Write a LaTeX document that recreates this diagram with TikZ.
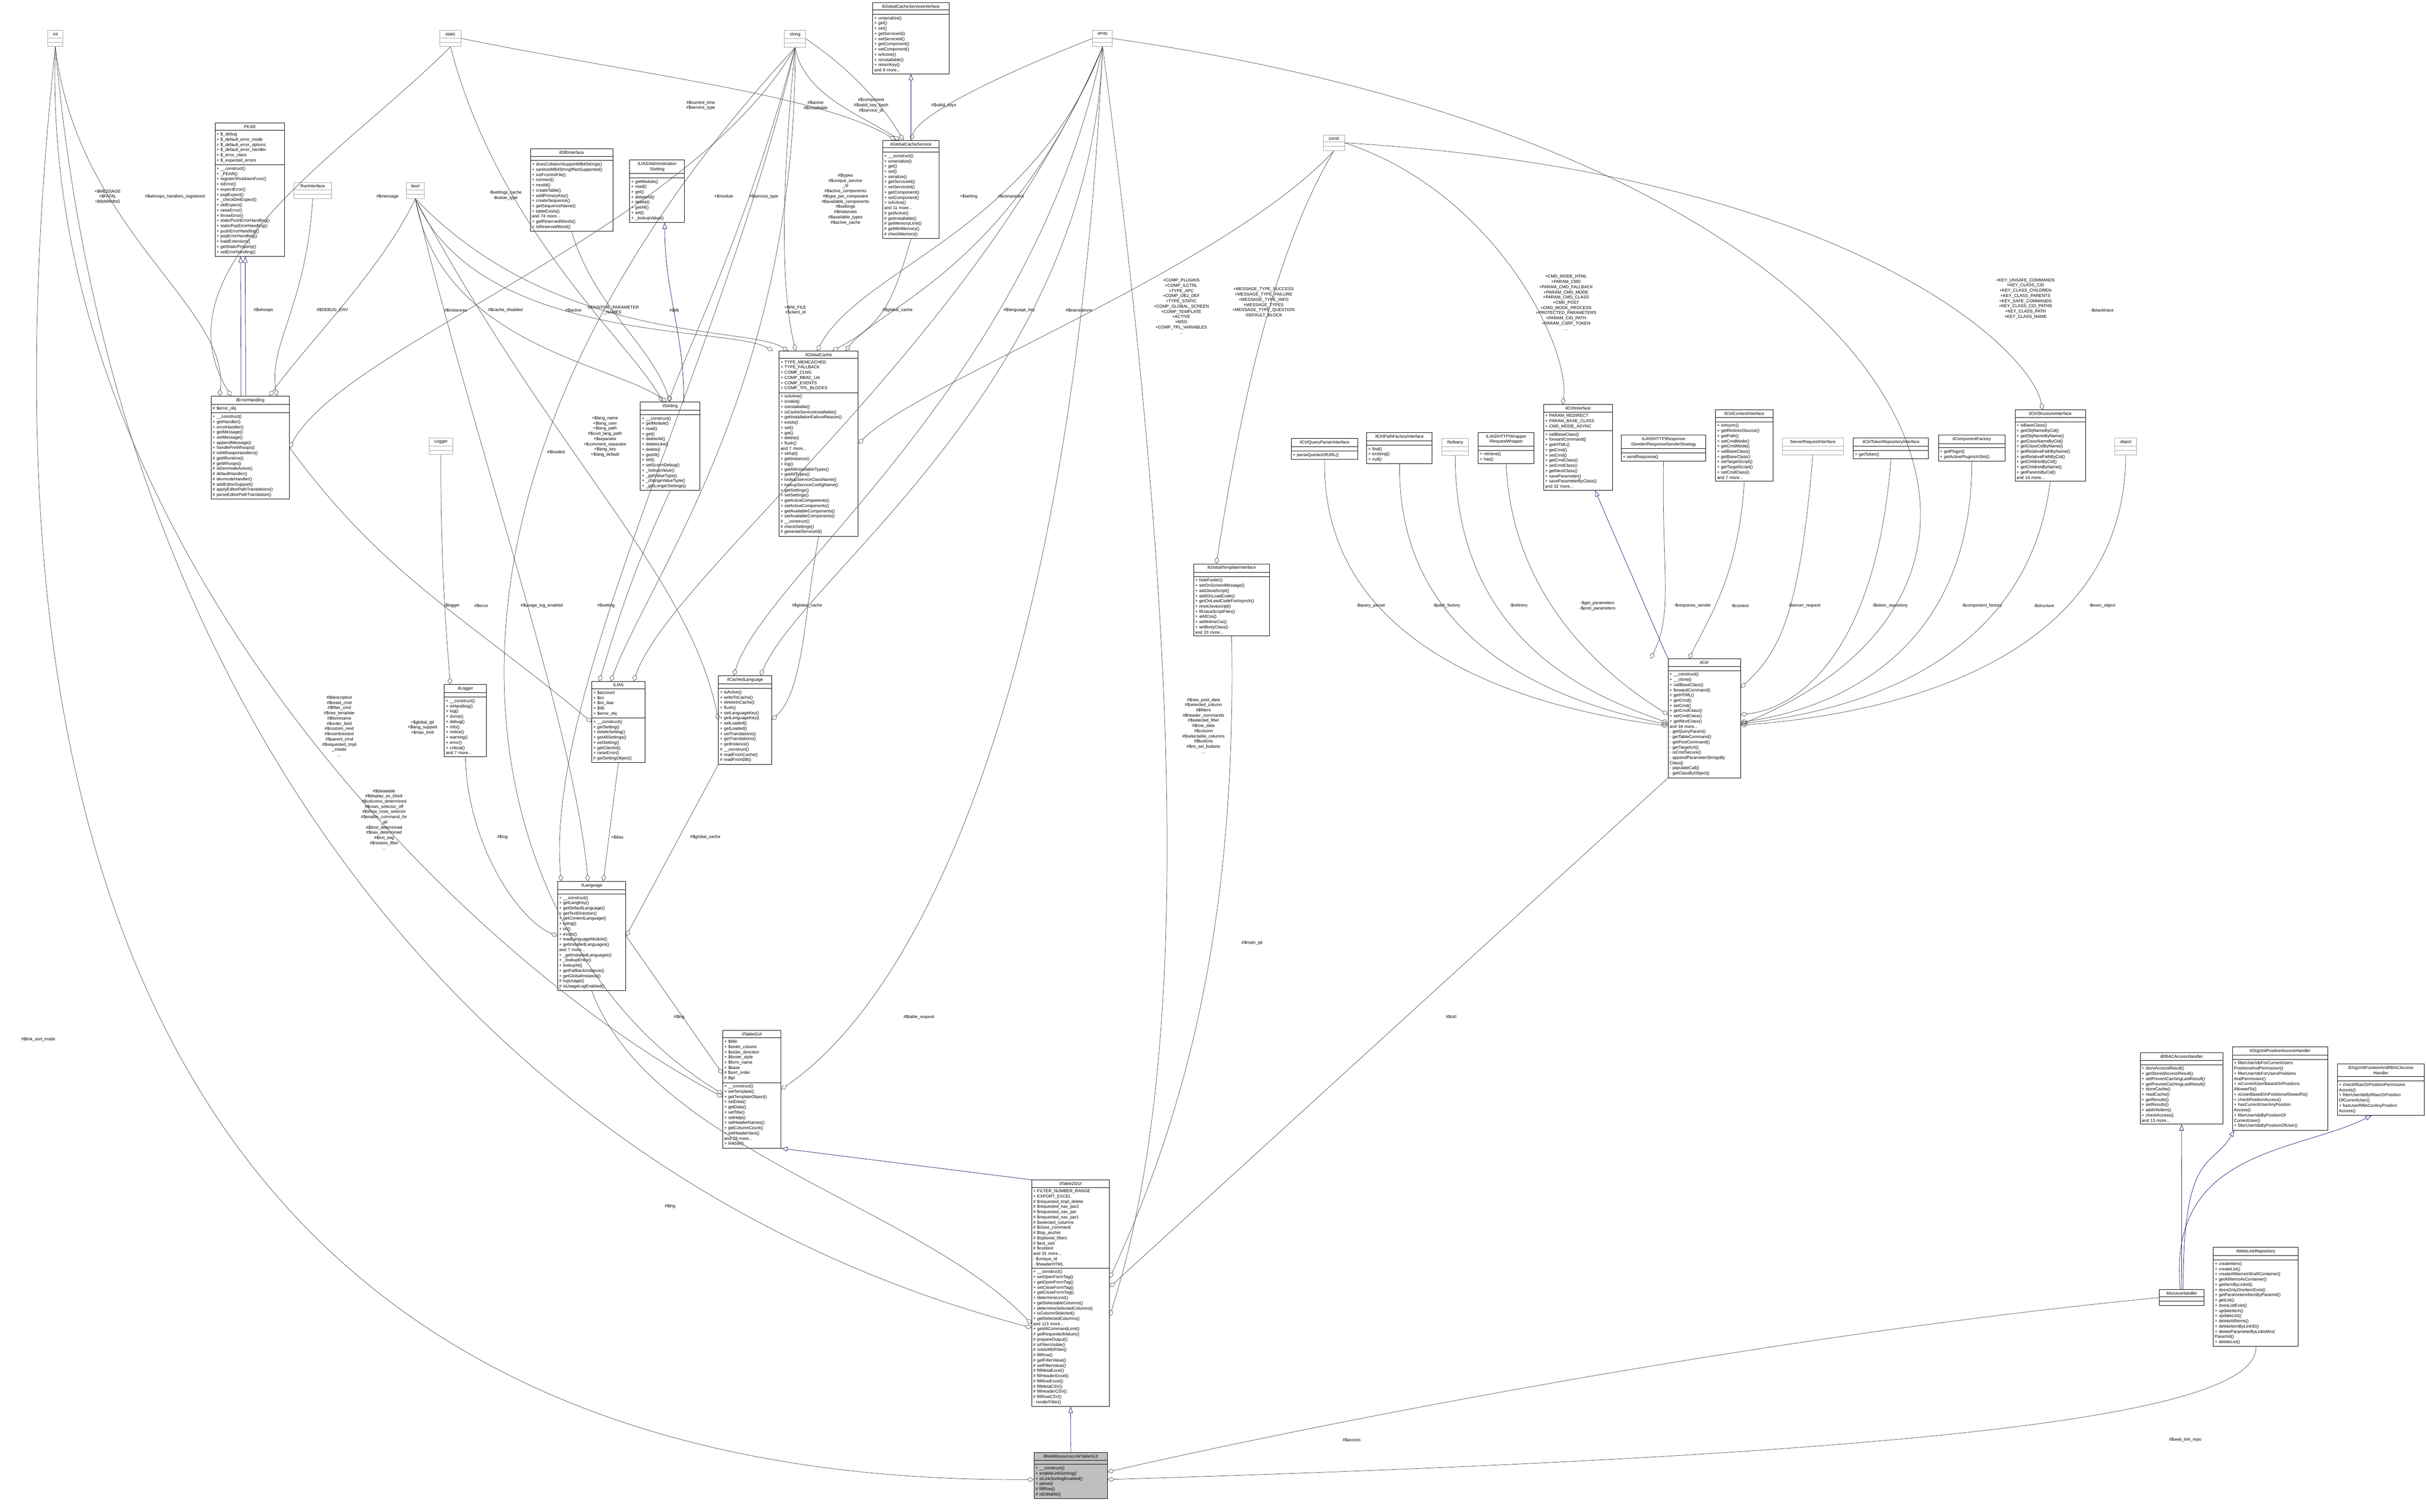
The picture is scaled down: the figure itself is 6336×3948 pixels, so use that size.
\documentclass[tikz,border=0pt]{standalone}
\usepackage{fontspec}
\setmainfont{Liberation Sans}
\usetikzlibrary{shapes.multipart,arrows.meta}
\definecolor{edgegray}{HTML}{404040}
\definecolor{inhblue}{HTML}{191970}
\tikzset{
  every node/.style={font=\fontsize{5.6}{6.8}\selectfont},
  cls/.style={draw=black, line width=0.6pt, rectangle split, rectangle split parts=3,
     anchor=north west, inner xsep=2pt, inner ysep=2.5pt, align=left,
     rectangle split empty part height=7pt},
  typ/.style={cls, draw=black!35},
  hl/.style={fill=black!25},
  agg/.style={draw=edgegray, line width=0.45pt, -{Diamond[open,length=9pt,width=6pt]}},
  inh/.style={draw=inhblue, line width=0.5pt, -{Triangle[open,length=8pt,width=6pt]}},
  lbl/.style={align=center, inner sep=1pt}
}
\newcommand{\cls}[8][]{% opt, name, x, y, w, title, attrs, methods
  \pgfmathsetmacro\tw{#5*0.5-4}
  \node[cls,#1,text width=\tw pt] (#2) at (#3,#4) {\centering #6\par\nodepart{second}#7\nodepart{third}#8};}
\newcommand{\typ}[4]{% name x y w
  \pgfmathsetmacro\tw{#4*0.5-4}
  \node[typ,text width=\tw pt] (#1) at (#2,#3) {\centering #1\par\nodepart{second}\nodepart{third}};}
\begin{document}
\begin{tikzpicture}[x=0.5pt,y=-0.5pt]
\useasboundingbox (0,0) rectangle (6336,3948);
% ---------- type nodes
\typ{int}{124}{79}{40}
\typ{static}{1148}{79}{56}
\typ{string}{2048}{79}{56}
\typ{array}{2853}{79}{52}
\typ{const}{3455}{352}{56}
\typ{bool}{1061}{476}{46}
\typ{RunInterface}{767}{476}{98}
\typ{Logger}{1120}{1143}{62}
\typ{Refinery}{3765}{1144}{70}
\typ{ServerRequestInterface}{4654}{1143}{160}
\typ{object}{5522}{1143}{58}
% ---------- classes
\cls{gcsi}{2279}{6}{199}{ilGlobalCacheServiceInterface}{}{+ unserialize()\\+ get()\\+ set()\\+ getServiceId()\\+ setServiceId()\\+ getComponent()\\+ setComponent()\\+ isActive()\\+ isInstallable()\\+ returnKey()\\and 9 more...}
\cls{gcs}{2305}{366}{147}{ilGlobalCacheService}{}{+ \_\_construct()\\+ unserialize()\\+ get()\\+ set()\\+ serialize()\\+ getServiceId()\\+ setServiceId()\\+ getComponent()\\+ setComponent()\\+ isActive()\\and 11 more...\\\# getActive()\\\# getInstallable()\\\# getMemoryLimit()\\\# getMinMemory()\\\# checkMemory()}
\cls{admset}{1644}{417}{143}{ILIAS\textbackslash Administration\\\textbackslash Setting}{}{+ getModule()\\+ read()\\+ get()\\+ deleteAll()\\+ delete()\\+ getAll()\\+ set()\\+ \_lookupValue()}
\cls{pear}{561}{321}{182}{PEAR}{+ \$\_debug\\+ \$\_default\_error\_mode\\+ \$\_default\_error\_options\\+ \$\_default\_error\_handler\\+ \$\_error\_class\\+ \$\_expected\_errors}{+ \_\_construct()\\+ \_PEAR()\\+ registerShutdownFunc()\\+ isError()\\+ expectError()\\+ popExpect()\\+ \_checkDelExpect()\\+ delExpect()\\+ raiseError()\\+ throwError()\\+ staticPushErrorHandling()\\+ staticPopErrorHandling()\\+ pushErrorHandling()\\+ popErrorHandling()\\+ loadExtension()\\+ getStaticProperty()\\+ setErrorHandling()}
\cls{idb}{1385}{388}{215}{ilDBInterface}{}{+ doesCollationSupportMB4Strings()\\+ sanitizeMB4StringIfNotSupported()\\+ initFromIniFile()\\+ connect()\\+ nextId()\\+ createTable()\\+ addPrimaryKey()\\+ createSequence()\\+ getSequenceName()\\+ tableExists()\\and 74 more...\\+ getReservedWords()\\+ isReservedWord()}
\cls{err}{551}{1034}{204}{ilErrorHandling}{\# \$error\_obj}{+ \_\_construct()\\+ getHandler()\\+ errorHandler()\\+ getMessage()\\+ setMessage()\\+ appendMessage()\\+ handlePreWhoops()\\\# initWhoopsHandlers()\\\# getIlRuntime()\\\# getWhoops()\\\# isDevmodeActive()\\\# defaultHandler()\\\# devmodeHandler()\\\# addEditorSupport()\\\# applyEditorPathTranslations()\\\# parseEditorPathTranslation()}
\cls{logger}{1160}{1787}{110}{ilLogger}{}{+ \_\_construct()\\+ isHandling()\\+ log()\\+ dump()\\+ debug()\\+ info()\\+ notice()\\+ warning()\\+ error()\\+ critical()\\and 7 more...}
\cls{ilias}{1545}{1779}{139}{ILIAS}{+ \$account\\+ \$ini\\+ \$ini\_ilias\\+ \$db\\+ \$error\_obj}{+ \_\_construct()\\+ getSetting()\\+ deleteSetting()\\+ getAllSettings()\\+ setSetting()\\+ getClientId()\\+ raiseError()\\\# getSettingObject()}
\cls{clang}{1876}{1764}{139}{ilCachedLanguage}{}{+ isActive()\\+ writeToCache()\\+ deleteInCache()\\+ flush()\\+ setLanguageKey()\\+ getLanguageKey()\\+ setLoaded()\\+ getLoaded()\\+ setTranslations()\\+ getTranslations()\\+ getInstance()\\\# \_\_construct()\\\# readFromCache()\\\# readFromDB()}
\cls{setting}{1672}{1049}{155}{ilSetting}{}{+ \_\_construct()\\+ getModule()\\+ read()\\+ get()\\+ deleteAll()\\+ deleteLike()\\+ delete()\\+ getAll()\\+ set()\\+ setScormDebug()\\+ \_lookupValue()\\+ \_getValueType()\\+ \_changeValueType()\\+ \_getLongerSettings()}
\cls{gcache}{2034}{916}{207}{ilGlobalCache}{+ TYPE\_MEMCACHED\\+ TYPE\_FALLBACK\\+ COMP\_CLNG\\+ COMP\_RBAC\_UA\\+ COMP\_EVENTS\\+ COMP\_TPL\_BLOCKS}{+ isActive()\\+ isValid()\\+ isInstallable()\\+ isCacheServiceInstallable()\\+ getInstallationFailureReason()\\+ exists()\\+ set()\\+ get()\\+ delete()\\+ flush()\\and 7 more...\\+ setup()\\+ getInstance()\\+ log()\\+ getAllInstallableTypes()\\+ getAllTypes()\\+ lookupServiceClassName()\\+ lookupServiceConfigName()\\+ getSettings()\\+ setSettings()\\+ getActiveComponents()\\+ setActiveComponents()\\+ getAvailableComponents()\\+ setAvailableComponents()\\\# \_\_construct()\\\# checkSettings()\\\# generateServiceId()}
\cls{lang}{1456}{2301}{178}{ilLanguage}{}{+ \_\_construct()\\+ getLangKey()\\+ getDefaultLanguage()\\+ getTextDirection()\\+ getContentLanguage()\\+ txtlng()\\+ txt()\\+ exists()\\+ loadLanguageModule()\\+ getInstalledLanguages()\\and 7 more...\\+ \_getInstalledLanguages()\\+ \_lookupEntry()\\+ lookupId()\\+ getFallbackInstance()\\+ getGlobalInstance()\\\# logUsage()\\\# isUsageLogEnabled()}
\cls{tgui}{1887}{2690}{152}{ilTableGUI}{+ \$title\\+ \$order\_column\\+ \$order\_direction\\+ \$footer\_style\\+ \$form\_name\\+ \$base\\\# \$sort\_order\\\# \$tpl}{+ \_\_construct()\\+ setTemplate()\\+ getTemplateObject()\\+ setData()\\+ getData()\\+ setTitle()\\+ setHelp()\\+ setHeaderNames()\\+ getColumnCount()\\+ setHeaderVars()\\and 29 more...\\+ linkbar()}
\cls{t2gui}{2694}{3081}{203}{ilTable2GUI}{+ FILTER\_NUMBER\_RANGE\\+ EXPORT\_EXCEL\\\# \$requested\_tmpl\_delete\\\# \$requested\_nav\_par2\\\# \$requested\_nav\_par\\\# \$requested\_nav\_par1\\\# \$selected\_columns\\\# \$close\_command\\\# \$top\_anchor\\\# \$optional\_filters\\\# \$ext\_sort\\\# \$context\\and 31 more...\\- \$unique\_id\\- \$headerHTML}{+ \_\_construct()\\+ setOpenFormTag()\\+ getOpenFormTag()\\+ setCloseFormTag()\\+ getCloseFormTag()\\+ determineLimit()\\+ getSelectableColumns()\\+ determineSelectedColumns()\\+ isColumnSelected()\\+ getSelectedColumns()\\and 113 more...\\+ getAllCommandLimit()\\\# getRequestedValues()\\\# prepareOutput()\\\# isFilterVisible()\\\# isAdvMDFilter()\\\# fillRow()\\\# getFilterValue()\\\# setFilterValue()\\\# fillMetaExcel()\\\# fillHeaderExcel()\\\# fillRowExcel()\\\# fillMetaCSV()\\\# fillHeaderCSV()\\\# fillRowCSV()\\- renderFilter()}
\cls[hl]{wrl}{2700}{3793}{192}{ilWebResourceLinkTableGUI}{}{+ \_\_construct()\\+ enableLinkSorting()\\+ isLinkSortingEnabled()\\+ parse()\\\# fillRow()\\\# isEditable()}
\cls{gti}{3117}{1472}{198}{ilGlobalTemplateInterface}{}{+ hideFooter()\\+ setOnScreenMessage()\\+ addJavaScript()\\+ addOnLoadCode()\\+ getOnLoadCodeForAsynch()\\+ resetJavascript()\\+ fillJavaScriptFiles()\\+ addCss()\\+ addInlineCss()\\+ setBodyClass()\\and 33 more...}
\cls{cqpi}{3372}{1144}{174}{ilCtrlQueryParserInterface}{}{+ parseQueriesOfURL()}
\cls{cpfi}{3569}{1129}{171}{ilCtrlPathFactoryInterface}{}{+ find()\\+ existing()\\+ null()}
\cls{rw}{3860}{1129}{146}{ILIAS\textbackslash HTTP\textbackslash Wrapper\\\textbackslash RequestWrapper}{}{+ retrieve()\\+ has()}
\cls{ci}{4031}{1056}{180}{ilCtrlInterface}{+ PARAM\_REDIRECT\\+ PARAM\_BASE\_CLASS\\+ CMD\_MODE\_ASYNC}{+ callBaseClass()\\+ forwardCommand()\\+ getHTML()\\+ getCmd()\\+ setCmd()\\+ getCmdClass()\\+ setCmdClass()\\+ getNextClass()\\+ saveParameter()\\+ saveParameterByClass()\\and 32 more...}
\cls{rss}{4234}{1136}{220}{ILIAS\textbackslash HTTP\textbackslash Response\\\textbackslash Sender\textbackslash ResponseSenderStrategy}{}{+ sendResponse()}
\cls{cci}{4480}{1070}{150}{ilCtrlContextInterface}{}{+ isAsync()\\+ getRedirectSource()\\+ getPath()\\+ setCmdMode()\\+ getCmdMode()\\+ setBaseClass()\\+ getBaseClass()\\+ setTargetScript()\\+ getTargetScript()\\+ setCmdClass()\\and 7 more...}
\cls{ctri}{4840}{1143}{196}{ilCtrlTokenRepositoryInterface}{}{+ getToken()}
\cls{cf}{5062}{1136}{174}{ilComponentFactory}{}{+ getPlugin()\\+ getActivePluginsInSlot()}
\cls{csi}{5262}{1070}{184}{ilCtrlStructureInterface}{}{+ isBaseClass()\\+ getObjNameByCid()\\+ getObjNameByName()\\+ getClassNameByCid()\\+ getClassCidByName()\\+ getRelativePathByName()\\+ getRelativePathByCid()\\+ getChildrenByCid()\\+ getChildrenByName()\\+ getParentsByCid()\\and 14 more...}
\cls{ctrl}{4356}{1720}{189}{ilCtrl}{}{+ \_\_construct()\\+ \_\_clone()\\+ callBaseClass()\\+ forwardCommand()\\+ getHTML()\\+ getCmd()\\+ setCmd()\\+ getCmdClass()\\+ setCmdClass()\\+ getNextClass()\\and 34 more...\\- getQueryParam()\\- getTableCommand()\\- getPostCommand()\\- getTargetUrl()\\- isCmdSecure()\\- appendParameterStringsBy\\Class()\\- populateCall()\\- getClassByObject()}
\cls{rbac}{5589}{2749}{216}{ilRBACAccessHandler}{}{+ storeAccessResult()\\+ getStoredAccessResult()\\+ setPreventCachingLastResult()\\+ getPreventCachingLastResult()\\+ storeCache()\\+ readCache()\\+ getResults()\\+ setResults()\\+ addInfoItem()\\+ checkAccess()\\and 13 more...}
\cls{oupa}{5830}{2733}{249}{ilOrgUnitPositionAccessHandler}{}{+ filterUserIdsForCurrentUsers\\PositionsAndPermission()\\+ filterUserIdsForUsersPositions\\AndPermission()\\+ isCurrentUserBasedOnPositions\\AllowedTo()\\+ isUserBasedOnPositionsAllowedTo()\\+ checkPositionAccess()\\+ hasCurrentUserAnyPosition\\Access()\\+ filterUserIdsByPositionOf\\CurrentUser()\\+ filterUserIdsByPositionOfUser()}
\cls{ouprb}{6104}{2778}{227}{ilOrgUnitPositionAndRBACAccess\\Handler}{}{+ checkRbacOrPositionPermission\\Access()\\+ filterUserIdsByRbacOrPosition\\OfCurrentUser()\\+ hasUserRBACorAnyPosition\\Access()}
\cls{acc}{5639}{3367}{117}{ilAccessHandler}{}{}
\cls{wlr}{5780}{3257}{222}{ilWebLinkRepository}{}{+ createItem()\\+ createList()\\+ createAllItemsInDraftContainer()\\+ getAllItemsAsContainer()\\+ getItemByLinkId()\\+ doesOnlyOneItemExist()\\+ getParameterinItemByParamId()\\+ getList()\\+ doesListExist()\\+ updateItem()\\+ updateList()\\+ deleteAllItems()\\+ deleteItemByLinkID()\\+ deleteParameterByLinkIdAnd\\ParamId()\\+ deleteList()}
% ---------- inheritance
\draw[inh] ([xshift=-12pt]err.north) to[out=90,in=-90] ([xshift=-12pt]pear.south);
\draw[inh] ([xshift=-6pt]err.north) to[out=90,in=-90] ([xshift=-6pt]pear.south);
\draw[inh] ([xshift=18pt]setting.north) to[out=90,in=-90] ([xshift=10pt]admset.south);
\draw[inh] (gcs.north) -- (gcsi.south);
\draw[inh] (t2gui.north west) -- (tgui.south east);
\draw[inh] (wrl.north) -- (t2gui.south);
\draw[inh] (ctrl.north west) -- ([xshift=22pt]ci.south);
\draw[inh] (acc.north) -- (rbac.south);
\draw[inh] ([xshift=2pt]acc.north) .. controls (5700,3000) and (5780,3050) .. ([xshift=-60pt]oupa.south);
\draw[inh] ([xshift=-2pt]acc.north) .. controls (5660,3000) and (6000,3010) .. ([xshift=-12pt]ouprb.south);
% ---------- labels
\node[lbl] (l1) at (281,513) {+\$MESSAGE\\+\$FATAL\\+\$WARNING};
\node[lbl] (l2) at (457,513) {\#\$whoops\_handlers\_registered};
\node[lbl] (l3) at (1012,513) {\#\$message};
\node[lbl] (l4) at (1320,510) {-\$settings\_cache\\-\$value\_type};
\node[lbl] (l5) at (688,810) {\#\$whoops};
\node[lbl] (l6) at (868,810) {\#\$DEBUG\_ENV};
\node[lbl] (l7) at (1190,810) {\#\$instances};
\node[lbl] (l8) at (1320,810) {\#\$cache\_disabled};
\node[lbl] (l9) at (1498,810) {\#\$active};
\node[lbl] (l10) at (1600,810) {-SENSITIVE\_PARAMETER\\\_NAMES};
\node[lbl] (l11) at (1761,810) {\#\$db};
\node[lbl] (l12) at (2077,810) {+\$INI\_FILE\\+\$client\_id};
\node[lbl] (l13) at (2344,810) {\#\$global\_cache};
\node[lbl] (l14) at (2662,810) {\#\$language\_key};
\node[lbl] (l15) at (2818,810) {\#\$translations};
\node[lbl] (l16) at (3085,800) {+COMP\_PLUGINS\\+COMP\_ILCTRL\\+TYPE\_APC\\+COMP\_OBJ\_DEF\\+TYPE\_STATIC\\+COMP\_GLOBAL\_SCREEN\\+COMP\_TEMPLATE\\+ACTIVE\\+MSG\\+COMP\_TPL\_VARIABLES\\...};
\node[lbl] (l17) at (3300,790) {+MESSAGE\_TYPE\_SUCCESS\\+MESSAGE\_TYPE\_FAILURE\\+MESSAGE\_TYPE\_INFO\\+MESSAGE\_TYPES\\+MESSAGE\_TYPE\_QUESTION\\-DEFAULT\_BLOCK};
\node[lbl] (l18) at (4090,790) {+CMD\_MODE\_HTML\\+PARAM\_CMD\\+PARAM\_CMD\_FALLBACK\\+PARAM\_CMD\_MODE\\+PARAM\_CMD\_CLASS\\+CMD\_POST\\+CMD\_MODE\_PROCESS\\+PROTECTED\_PARAMETERS\\+PARAM\_CID\_PATH\\+PARAM\_CSRF\_TOKEN\\...};
\node[lbl] (l19) at (5290,780) {+KEY\_UNSAFE\_COMMANDS\\+KEY\_CLASS\_CID\\+KEY\_CLASS\_CHILDREN\\+KEY\_CLASS\_PARENTS\\+KEY\_SAFE\_COMMANDS\\+KEY\_CLASS\_CID\_PATHS\\+KEY\_CLASS\_PATH\\+KEY\_CLASS\_NAME};
\node[lbl] (l20) at (5490,810) {-\$stacktrace};
\node[lbl] (l21) at (1830,275) {\#\$current\_time\\\#\$service\_type};
\node[lbl] (l22) at (2130,275) {\#\$active\\\#\$installable};
\node[lbl] (l23) at (2275,275) {\#\$component\\\#\$valid\_key\_hash\\\#\$service\_id};
\node[lbl] (l24) at (2465,275) {\#\$valid\_keys};
\node[lbl] (l25) at (1890,513) {+\$module};
\node[lbl] (l26) at (1995,513) {\#\$service\_type};
\node[lbl] (l27) at (2208,520) {\#\$types\\\#\$unique\_service\\\_id\\\#\$active\_components\\\#\$type\_per\_component\\\#\$available\_components\\\#\$settings\\\#\$instances\\\#\$available\_types\\\#\$active\_cache};
\node[lbl] (l28) at (2530,513) {+\$setting};
\node[lbl] (l29) at (2640,513) {\#\$component};
\node[lbl] (l30) at (1180,1582) {-\$logger};
\node[lbl] (l31) at (1257,1582) {\#\$error};
\node[lbl] (l32) at (1415,1582) {\#\$usage\_log\_enabled};
\node[lbl] (l33) at (1583,1582) {\#\$setting};
\node[lbl] (l34) at (2108,1582) {\#\$global\_cache};
\node[lbl] (l35) at (1452,1180) {\#\$loaded};
\node[lbl] (l36) at (1580,1140) {+\$lang\_name\\+\$lang\_user\\+\$lang\_path\\\#\$cust\_lang\_path\\+\$separator\\+\$comment\_separator\\+\$lang\_key\\+\$lang\_default};
\node[lbl] (l37) at (1312,2186) {\#\$log};
\node[lbl] (l38) at (1612,2186) {+\$ilias};
\node[lbl] (l39) at (1842,2186) {\#\$global\_cache};
\node[lbl] (l40) at (1774,2656) {\#\$lng};
\node[lbl] (l41) at (2400,2656) {\#\$table\_request};
\node[lbl] (l42) at (3270,2462) {\#\$main\_tpl};
\node[lbl] (l43) at (3790,2655) {\#\$ctrl};
\node[lbl] (l44) at (3530,3760) {\#\$access};
\node[lbl] (l45) at (5707,3760) {\#\$web\_link\_repo};
\node[lbl] (l46) at (100,2715) {\#\$link\_sort\_mode};
\node[lbl] (l47) at (886,1896) {\#\$description\\\#\$reset\_cmd\\\#\$filter\_cmd\\\#\$row\_template\\\#\$formname\\\#\$order\_field\\\#\$custom\_next\\\#\$noentriestext\\\#\$parent\_cmd\\\#\$requested\_tmpl\\\_create\\...};
\node[lbl] (l48) at (1103,1900) {+\$global\_tpl\\+\$lang\_support\\+\$max\_limit};
\node[lbl] (l49) at (1003,2140) {\#\$datatable\\\#\$display\_as\_block\\\#\$columns\_determined\\\#\$rows\_selector\_off\\\#\$show\_rows\_selector\\\#\$enable\_command\_for\\\_all\\\#\$limit\_determined\\\#\$nav\_determined\\\#\$ext\_seg\\\#\$restore\_filter\\...};
\node[lbl] (l50) at (3143,1895) {\#\$raw\_post\_data\\\#\$selected\_column\\\#\$filters\\\#\$header\_commands\\\#\$selected\_filter\\\#\$row\_data\\\#\$column\\\#\$selectable\_columns\\\#\$buttons\\\#\$mi\_sel\_buttons\\...};
\node[lbl] (l51) at (3580,1582) {-\$query\_parser};
\node[lbl] (l52) at (3778,1582) {-\$path\_factory};
\node[lbl] (l53) at (3966,1582) {-\$refinery};
\node[lbl] (l54) at (4172,1582) {-\$get\_parameters\\-\$post\_parameters};
\node[lbl] (l55) at (4420,1582) {-\$response\_sender};
\node[lbl] (l56) at (4544,1582) {-\$context};
\node[lbl] (l57) at (4712,1582) {-\$server\_request};
\node[lbl] (l58) at (4936,1582) {-\$token\_repository};
\node[lbl] (l59) at (5176,1582) {-\$component\_factory};
\node[lbl] (l60) at (5338,1582) {-\$structure};
\node[lbl] (l61) at (5490,1582) {-\$exec\_object};
\node[lbl] (l62) at (1750,3150) {\#\$lng};
% ---------- aggregation edges
\draw[agg] (int.south) .. controls (200,600) and (600,800) .. ([xshift=-40pt]err.north);
\draw[agg] (static.south) .. controls (900,400) and (400,700) .. ([xshift=-25pt]err.north);
\draw[agg] (bool.south) .. controls (1000,700) and (800,900) .. ([xshift=25pt]err.north);
\draw[agg] (RunInterface.south) .. controls (800,800) and (700,900) .. ([xshift=35pt]err.north);
\draw[agg] (string.south) .. controls (1800,600) and (900,900) .. (err.east);
\draw[agg] (static.south) .. controls (1300,600) and (1650,900) .. ([xshift=-10pt]setting.north);
\draw[agg] (bool.south) .. controls (1150,900) and (1600,950) .. ([xshift=-5pt]setting.north);
\draw[agg] (idb.south) .. controls (1550,800) and (1700,900) .. ([xshift=0pt]setting.north);
\draw[agg] (string.south) .. controls (1950,600) and (1800,900) .. ([xshift=-2pt]setting.north);
\draw[agg] (bool.south) .. controls (1250,900) and (1900,850) .. ([xshift=-60pt]gcache.north);
\draw[agg] (bool.south) .. controls (1450,900) and (1950,850) .. ([xshift=-40pt]gcache.north);
\draw[agg] (string.south) .. controls (2030,600) and (2050,800) .. ([xshift=-30pt]gcache.north);
\draw[agg] (array.south) .. controls (2700,600) and (2250,700) .. ([xshift=-2pt]gcache.north);
\draw[agg] (gcs.south) .. controls (2330,800) and (2300,850) .. ([xshift=18pt]gcache.north);
\draw[agg] (array.south) .. controls (2640,700) and (2300,800) .. ([xshift=35pt]gcache.north);
\draw[agg] (const.south) .. controls (3200,700) and (2400,1000) .. (gcache.east);
\draw[agg] (static.east) .. controls (1700,200) and (2150,250) .. ([xshift=-20pt]gcs.north);
\draw[agg] (string.south) .. controls (2100,250) and (2250,300) .. ([xshift=-15pt]gcs.north);
\draw[agg] (string.east) .. controls (2250,200) and (2320,300) .. ([xshift=-10pt]gcs.north);
\draw[agg] (array.west) .. controls (2600,200) and (2400,300) .. (gcs.north);
\draw[agg] (string.south) .. controls (2080,1000) and (1700,1500) .. ([xshift=-10pt]ilias.north);
\draw[agg] (array.south) .. controls (2550,900) and (1750,1500) .. ([xshift=20pt]ilias.north);
\draw[agg] (err.east) .. controls (1000,1500) and (1200,1600) .. (ilias.west);
\draw[agg] (setting.south) .. controls (1650,1500) and (1620,1600) .. ([xshift=-25pt]ilias.north);
\draw[agg] (Logger.south) .. controls (1150,1500) and (1170,1700) .. ([xshift=-20pt]logger.north);
\draw[agg] (array.south) .. controls (2700,1000) and (2000,1500) .. ([xshift=-15pt]clang.north);
\draw[agg] (array.south) .. controls (2850,1000) and (2100,1500) .. ([xshift=20pt]clang.north);
\draw[agg] (gcache.south) .. controls (2100,1600) and (2100,1800) .. (clang.east);
\draw[agg] (bool.south) .. controls (1450,1200) and (1800,1500) .. (clang.west);
\draw[agg] (string.south) .. controls (1900,900) and (1420,1800) .. ([xshift=-40pt]lang.north);
\draw[agg] (bool.south) .. controls (1250,1200) and (1500,1900) .. ([xshift=-5pt]lang.north);
\draw[agg] (ilias.south) -- ([xshift=15pt]lang.north);
\draw[agg] (logger.south) .. controls (1220,2200) and (1350,2400) .. (lang.west);
\draw[agg] (clang.south west) -- (lang.east);
\draw[agg] (lang.east) -- ([yshift=20pt]tgui.west);
\draw[agg] (array.south) .. controls (2800,1800) and (2400,2600) .. (tgui.east);
\draw[agg] (int.south) .. controls (100,1400) and (1200,2500) .. ([yshift=-10pt]tgui.west);
\draw[agg] (string.south) .. controls (900,1400) and (1300,2500) .. ([yshift=-6pt]tgui.west);
\draw[agg] (gti.south) .. controls (3230,2400) and (3100,2900) .. ([yshift=20pt]t2gui.east);
\draw[agg] (ctrl.south west) -- ([yshift=8pt]t2gui.east);
\draw[agg] (lang.south) .. controls (1700,3000) and (2400,3150) .. ([yshift=-40pt]t2gui.west);
\draw[agg] (int.south) .. controls (300,1900) and (1300,3100) .. ([yshift=-45pt]t2gui.west);
\draw[agg] (array.south) .. controls (3100,1800) and (3100,2800) .. ([yshift=-30pt]t2gui.east);
\draw[agg] (acc.west) .. controls (4500,3500) and (3300,3750) .. ([yshift=5pt]wrl.east);
\draw[agg] (wlr.south) .. controls (5900,3700) and (5000,3800) .. ([yshift=-5pt]wrl.east);
\draw[agg] (int.south) .. controls (0,1500) and (0,3880) .. ([yshift=-5pt]wrl.west);
\draw[agg] (const.south) .. controls (3300,700) and (3220,1200) .. ([xshift=-20pt]gti.north);
\draw[agg] (const.east) .. controls (3900,500) and (4100,900) .. ([xshift=-20pt]ci.north);
\draw[agg] (const.east) .. controls (4800,450) and (5300,900) .. ([xshift=-10pt]csi.north);
% ilCtrl members
\draw[agg] (cqpi.south) .. controls (3450,1700) and (4000,1850) .. ([yshift=-10pt]ctrl.west);
\draw[agg] (cpfi.south) .. controls (3650,1700) and (4100,1840) .. ([yshift=-8pt]ctrl.west);
\draw[agg] (Refinery.south) .. controls (3800,1700) and (4200,1830) .. ([yshift=-6pt]ctrl.west);
\draw[agg] (rw.south) .. controls (3950,1600) and (4250,1800) .. ([yshift=5pt]ctrl.west);
\draw[agg] (rss.south) .. controls (4340,1500) and (4370,1600) .. ([xshift=-70pt]ctrl.north);
\draw[agg] (cci.south) .. controls (4540,1500) and (4470,1600) .. ([xshift=-20pt]ctrl.north);
\draw[agg] (ServerRequestInterface.south) .. controls (4700,1600) and (4650,1700) .. ([yshift=40pt]ctrl.east);
\draw[agg] (ctri.south) .. controls (4900,1700) and (4700,1850) .. ([yshift=5pt]ctrl.east);
\draw[agg] (cf.south) .. controls (5150,1700) and (4800,1850) .. ([yshift=-5pt]ctrl.east);
\draw[agg] (csi.south) .. controls (5300,1700) and (4900,1850) .. ([yshift=-7pt]ctrl.east);
\draw[agg] (object.south) .. controls (5550,1700) and (5000,1860) .. ([yshift=-9pt]ctrl.east);
\draw[agg] (array.east) .. controls (5000,400) and (5500,1500) .. ([yshift=-8pt]ctrl.east);
\end{tikzpicture}
\end{document}
